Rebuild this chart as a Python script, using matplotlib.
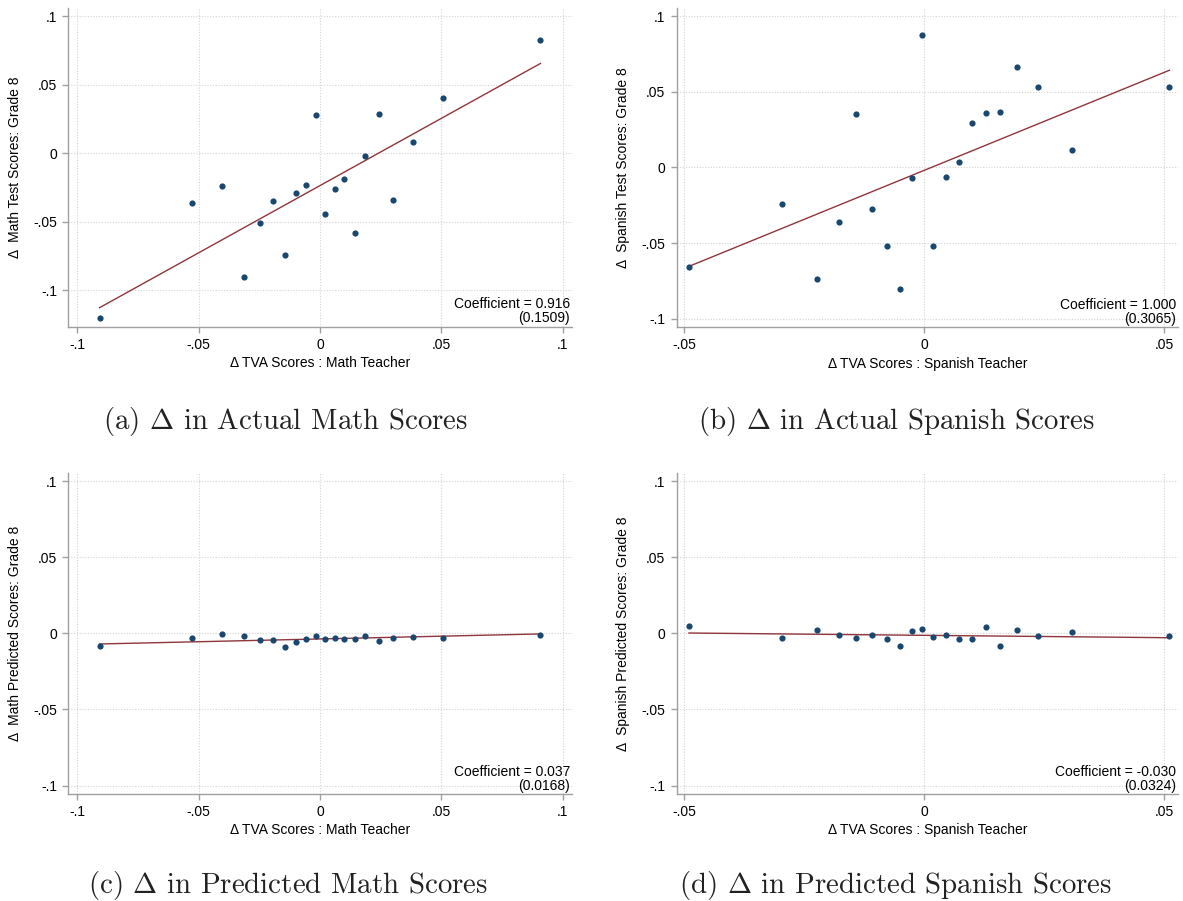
import matplotlib
matplotlib.use("Agg")
import matplotlib.pyplot as plt

plt.rcParams["font.family"] = ["Liberation Sans", "DejaVu Sans"]
plt.rcParams["mathtext.fontset"] = "cm"

W, H = 1183, 901

# binned points
math_x = [-0.0908, -0.0528, -0.0404, -0.0313, -0.0248, -0.0192, -0.0143, -0.0099, -0.0057, -0.0017,
          0.0022, 0.0062, 0.0099, 0.0143, 0.0187, 0.0242, 0.0301, 0.0384, 0.0508, 0.0908]
math_actual = [-0.1207, -0.0363, -0.0238, -0.0903, -0.0513, -0.0350, -0.0742, -0.0294, -0.0236, 0.0277,
               -0.0448, -0.0260, -0.0192, -0.0582, -0.0019, 0.0287, -0.0343, 0.0078, 0.0401, 0.0830]
math_pred = [-0.0086, -0.0029, -0.0002, -0.0018, -0.0042, -0.0042, -0.0093, -0.0059, -0.0037, -0.0018,
             -0.0040, -0.0033, -0.0037, -0.0035, -0.0018, -0.0048, -0.0033, -0.0024, -0.0031, -0.0011]

span_x = [-0.0490, -0.0297, -0.0223, -0.0178, -0.0141, -0.0108, -0.0078, -0.0050, -0.0026, -0.0004,
          0.0019, 0.0046, 0.0072, 0.0100, 0.0128, 0.0158, 0.0194, 0.0238, 0.0308, 0.0511]
span_actual = [-0.0661, -0.0240, -0.0738, -0.0359, 0.0357, -0.0275, -0.0522, -0.0806, -0.0068, 0.0879,
               -0.0518, -0.0064, 0.0037, 0.0295, 0.0361, 0.0366, 0.0665, 0.0535, 0.0119, 0.0533]
span_pred = [0.0051, -0.0031, 0.0024, -0.0009, -0.0031, -0.0011, -0.0040, -0.0081, 0.0018, 0.0031,
             -0.0022, -0.0011, -0.0040, -0.0040, 0.0042, -0.0081, 0.0024, -0.0020, 0.0009, -0.0015]

# fitted line values at the first and last bin
fit_a = [-0.1129, 0.0655]
fit_b = [-0.0654, 0.0643]
fit_c = [-0.0070, -0.0004]
fit_d = [0.0002, -0.0029]

math_ticks = [-0.1, -0.05, 0, 0.05, 0.1]
math_ticklabels = ["-.1", "-.05", "0", ".05", ".1"]
span_ticks = [-0.05, 0, 0.05]
span_ticklabels = ["-.05", "0", ".05"]
y_ticks = [-0.1, -0.05, 0, 0.05, 0.1]
y_ticklabels = ["-.1", "-.05", "0", ".05", ".1"]

coefs = ["Coefficient = 0.916\n(0.1509)", "Coefficient = 1.000\n(0.3065)",
         "Coefficient = 0.037\n(0.0168)", "Coefficient = -0.030\n(0.0324)"]
ylabels = ["Δ  Math Test Scores: Grade 8", "Δ  Spanish Test Scores: Grade 8",
           "Δ  Math Predicted Scores: Grade 8", "Δ  Spanish Predicted Scores: Grade 8"]
xlabels = ["Δ TVA Scores : Math Teacher", "Δ TVA Scores : Spanish Teacher"]
titles = [r"(a) $\Delta$ in Actual Math Scores", r"(b) $\Delta$ in Actual Spanish Scores",
          r"(c) $\Delta$ in Predicted Math Scores", r"(d) $\Delta$ in Predicted Spanish Scores"]

NAVY = "#1a476f"
MAROON = "#90353b"
GRID = "#d4d4d4"
AXIS = "#a0a0a0"


def pixelAxes(fig, left, right, top, bottom):
    """add axes given pixel edges measured from the top-left corner"""
    return fig.add_axes([left / W, 1 - bottom / H, (right - left) / W, (bottom - top) / H])


def drawPanel(ax, x, y, fit, xticks, xticklabels, xlim, ylim, xlabel, ylabel, coef):
    """stata style binned scatter with a fit line"""
    ax.set_xlim(xlim)
    ax.set_ylim(ylim)
    ax.set_xticks(xticks)
    ax.set_xticklabels(xticklabels)
    ax.set_yticks(y_ticks)
    ax.set_yticklabels(y_ticklabels)
    ax.grid(True, color=GRID, linestyle=(0, (1, 1.5)), linewidth=0.8)
    ax.set_axisbelow(True)
    for side in ["top", "right"]:
        ax.spines[side].set_visible(False)
    for side in ["left", "bottom"]:
        ax.spines[side].set_color(AXIS)
        ax.spines[side].set_linewidth(1.0)
    ax.tick_params(colors=AXIS, labelcolor="black", labelsize=10, length=4.5, width=1.0)
    ax.plot([x[0], x[-1]], fit, color=MAROON, linewidth=1.0, zorder=3)
    ax.scatter(x, y, s=20, color=NAVY, zorder=4, linewidths=0)
    ax.set_xlabel(xlabel, fontsize=10, labelpad=3)
    ax.set_ylabel(ylabel, fontsize=10, labelpad=8)
    ax.text(0.997, 0.004, coef, transform=ax.transAxes, ha="right", va="bottom",
            fontsize=10, linespacing=1.0)


fig = plt.figure(figsize=(W / 100, H / 100), dpi=100)

axA = pixelAxes(fig, 68.3, 571.5, 8.3, 326.7)
drawPanel(axA, math_x, math_actual, fit_a, math_ticks, math_ticklabels,
          (-0.1037, 0.1036), (-0.1268, 0.1058), xlabels[0], ylabels[0], coefs[0])

axB = pixelAxes(fig, 676.5, 1178, 8.3, 327.3)
drawPanel(axB, span_x, span_actual, fit_b, span_ticks, span_ticklabels,
          (-0.0516, 0.0529), (-0.1057, 0.1053), xlabels[1], ylabels[1], coefs[1])

axC = pixelAxes(fig, 68.3, 571.5, 473.4, 794)
drawPanel(axC, math_x, math_pred, fit_c, math_ticks, math_ticklabels,
          (-0.1037, 0.1036), (-0.1055, 0.105), xlabels[0], ylabels[2], coefs[2])

axD = pixelAxes(fig, 676.5, 1178, 473.4, 794)
drawPanel(axD, span_x, span_pred, fit_d, span_ticks, span_ticklabels,
          (-0.0516, 0.0529), (-0.1055, 0.105), xlabels[1], ylabels[3], coefs[3])

# subfigure captions
title_pos = [(286, 421), (896, 421), (288, 886), (896, 886)]
for t, (px, py) in zip(titles, title_pos):
    fig.text(px / W, 1 - py / H, t, ha="center", va="center", fontsize=20.8,
             family="cmr10", color="#222222")

fig.savefig("out.png", dpi=100, facecolor="white")
